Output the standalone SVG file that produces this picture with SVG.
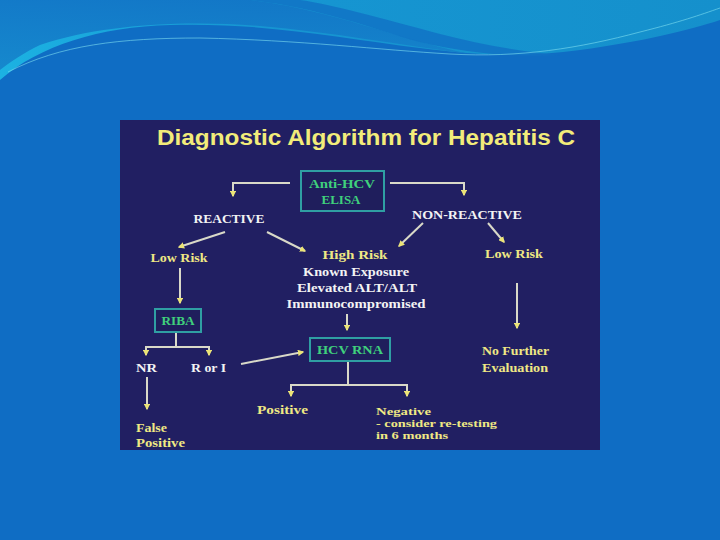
<svg xmlns="http://www.w3.org/2000/svg" width="720" height="540" viewBox="0 0 720 540">
<defs>
<linearGradient id="band" x1="0" y1="0" x2="1" y2="0">
<stop offset="0" stop-color="#1cb2e2"/>
<stop offset="0.35" stop-color="#1696d2"/>
<stop offset="1" stop-color="#1590cc"/>
</linearGradient>
<linearGradient id="topl" x1="0" y1="0" x2="0" y2="1">
<stop offset="0" stop-color="#1274c6"/>
<stop offset="1" stop-color="#1584cb"/>
</linearGradient>
<marker id="ah" viewBox="0 0 10 10" refX="8" refY="5" markerWidth="3.2" markerHeight="3.2" orient="auto" markerUnits="strokeWidth">
<path d="M0,0 L10,5 L0,10 Z" fill="#ece477"/>
</marker>
<style>
.lab{font-family:"Liberation Serif","DejaVu Serif",serif;font-weight:bold;font-size:12.5px;}
.w{fill:#f3f3f3;}
.y{fill:#efe884;}
.g{fill:#3fd07c;font-size:13px;}
.c{text-anchor:middle;}
.sm{font-size:10.5px;}
.box{fill:#1f1e5c;stroke:#2f9fa3;stroke-width:2;}
.ln{fill:none;stroke:#d9d9c8;stroke-width:2;}
.ar{marker-end:url(#ah);}
</style>
</defs>
<rect width="720" height="540" fill="#0f6dc4"/>
<path d="M0,80 C40,45 100,27 170,25 C260,22 340,38 420,48 C480,56 530,57 580,50 C640,42 690,30 720,20 L720,0 L0,0 Z" fill="url(#band)"/>
<path d="M0,0 L250,0 C300,6 340,18 380,30 C420,42 450,50 470,54 C400,45 330,32 260,26 C180,20 100,25 40,45 C25,52 10,62 0,70 Z" fill="url(#topl)" opacity="0.9"/>
<path d="M250,0 C320,8 370,28 420,42 C470,54 520,58 560,55 C520,52 480,44 440,34 C380,18 330,4 300,0 Z" fill="#1070c4" opacity="0.8"/>
<path d="M8,72 C60,45 120,38 200,38 C300,40 380,50 450,54 C520,58 580,48 640,32 C680,22 700,15 720,8" fill="none" stroke="#7fe0f0" stroke-width="1" opacity="0.6"/>
<rect x="120" y="120" width="480" height="330" fill="#211f62"/>
<text x="366" y="145" text-anchor="middle" font-family="Liberation Sans, Arial, sans-serif" font-weight="bold" font-size="22" fill="#f2ec7a" textLength="418" lengthAdjust="spacingAndGlyphs">Diagnostic Algorithm for Hepatitis C</text>
<g id="connectors">
<polyline class="ln ar" points="290,183 233,183 233,196"/>
<polyline class="ln ar" points="390,183 464,183 464,195"/>
<line class="ln ar" x1="225" y1="232" x2="179" y2="247"/>
<line class="ln ar" x1="267" y1="232" x2="305" y2="251"/>
<line class="ln ar" x1="423" y1="223" x2="399" y2="246"/>
<line class="ln ar" x1="488" y1="223" x2="504" y2="242"/>
<line class="ln ar" x1="180" y1="268" x2="180" y2="303"/>
<line class="ln ar" x1="517" y1="283" x2="517" y2="328"/>
<line class="ln ar" x1="347" y1="314" x2="347" y2="330"/>
<polyline class="ln" points="176,333 176,347"/>
<polyline class="ln ar" points="176,347 146,347 146,355"/>
<polyline class="ln ar" points="176,347 209,347 209,355"/>
<line class="ln ar" x1="147" y1="377" x2="147" y2="409"/>
<line class="ln ar" x1="241" y1="364" x2="303" y2="352"/>
<polyline class="ln" points="348,362 348,385"/>
<polyline class="ln ar" points="348,385 291,385 291,396"/>
<polyline class="ln ar" points="348,385 407,385 407,396"/>
</g>
<g id="elisa">
<rect class="box" x="301" y="171" width="83" height="40"/>
<text class="lab g c" x="342" y="188" textLength="66" lengthAdjust="spacingAndGlyphs">Anti-HCV</text>
<text class="lab g c" x="341" y="204">ELISA</text>
</g>
<g id="reactive"><text class="lab w c" x="229" y="223" textLength="71" lengthAdjust="spacingAndGlyphs">REACTIVE</text></g>
<g id="nonreactive"><text class="lab w c" x="467" y="219" textLength="110" lengthAdjust="spacingAndGlyphs">NON-REACTIVE</text></g>
<g id="lowrisk-left"><text class="lab y c" x="179" y="262" textLength="57" lengthAdjust="spacingAndGlyphs">Low Risk</text></g>
<g id="lowrisk-right"><text class="lab y c" x="514" y="258" textLength="58" lengthAdjust="spacingAndGlyphs">Low Risk</text></g>
<g id="highrisk">
<text class="lab y c" x="355" y="259" textLength="65" lengthAdjust="spacingAndGlyphs">High Risk</text>
<text class="lab w c" x="356" y="276" textLength="106" lengthAdjust="spacingAndGlyphs">Known Exposure</text>
<text class="lab w c" x="357" y="292" textLength="120" lengthAdjust="spacingAndGlyphs">Elevated ALT/ALT</text>
<text class="lab w c" x="356" y="308" textLength="139" lengthAdjust="spacingAndGlyphs">Immunocompromised</text>
</g>
<g id="riba">
<rect class="box" x="155" y="309" width="46" height="23"/>
<text class="lab g c" x="178" y="325" textLength="33" lengthAdjust="spacingAndGlyphs">RIBA</text>
</g>
<g id="nr"><text class="lab w" x="136" y="372" textLength="21" lengthAdjust="spacingAndGlyphs">NR</text></g>
<g id="rori"><text class="lab w" x="191" y="372" textLength="35" lengthAdjust="spacingAndGlyphs">R or I</text></g>
<g id="falsepos">
<text class="lab y" x="136" y="432" textLength="31" lengthAdjust="spacingAndGlyphs">False</text>
<text class="lab y" x="136" y="447" textLength="49" lengthAdjust="spacingAndGlyphs">Positive</text>
</g>
<g id="hcvrna">
<rect class="box" x="310" y="338" width="80" height="23"/>
<text class="lab g c" x="350" y="354" textLength="66" lengthAdjust="spacingAndGlyphs">HCV RNA</text>
</g>
<g id="nofurther">
<text class="lab y" x="482" y="355" textLength="67" lengthAdjust="spacingAndGlyphs">No Further</text>
<text class="lab y" x="482" y="372" textLength="66" lengthAdjust="spacingAndGlyphs">Evaluation</text>
</g>
<g id="positive"><text class="lab y" x="257" y="414" textLength="51" lengthAdjust="spacingAndGlyphs">Positive</text></g>
<g id="negative">
<text class="lab y sm" x="376" y="415" textLength="55" lengthAdjust="spacingAndGlyphs">Negative</text>
<text class="lab y sm" x="376" y="427" textLength="121" lengthAdjust="spacingAndGlyphs">- consider re-testing</text>
<text class="lab y sm" x="376" y="439" textLength="72" lengthAdjust="spacingAndGlyphs">in 6 months</text>
</g>
</svg>
